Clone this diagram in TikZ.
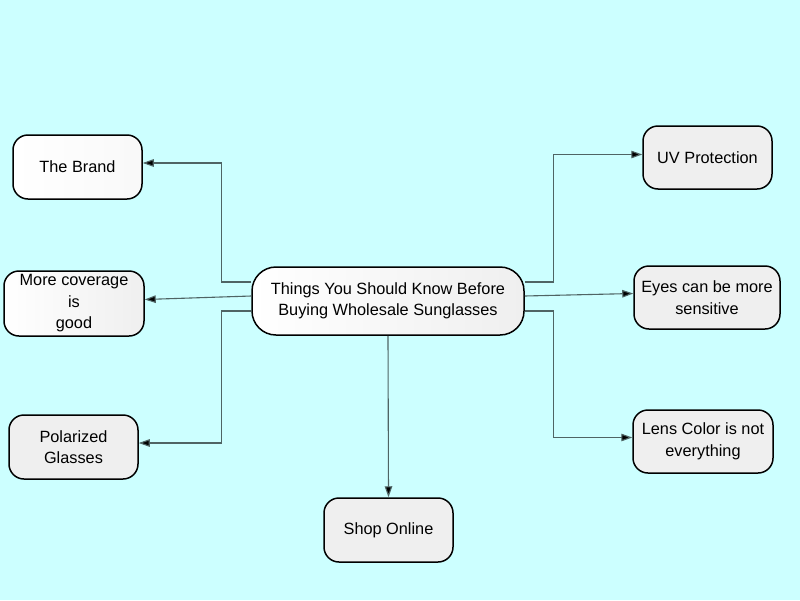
\documentclass[tikz,border=0pt]{standalone}
\usepackage{fontspec}
\setmainfont{Liberation Sans}
\usetikzlibrary{arrows.meta}
\definecolor{bgc}{HTML}{CCFFFF}
\definecolor{boxfill}{HTML}{EFEFEF}
\definecolor{linec}{HTML}{4F6464}
\tikzset{
  box/.style={draw=black, line width=1.5pt, rounded corners=15pt, align=center,
    left color=white, right color=boxfill, inner sep=0pt,
    font=\fontsize{16.3}{21.5}\selectfont},
  conn/.style={draw=linec, line width=1.1pt, -{Triangle[length=11pt,width=7.5pt,fill=black]}}
}
\begin{document}
\begin{tikzpicture}[x=1pt,y=-1pt]
\useasboundingbox[fill=bgc] (0,0) rectangle (800,600);
\node[box, minimum width=272pt, minimum height=68pt, rounded corners=24pt] (c) at (388,301) {Things You Should Know Before\\Buying Wholesale Sunglasses};
\node[box, minimum width=129pt, minimum height=64pt, right color=white!60!boxfill] (brand) at (77.5,167) {The Brand};
\node[box, minimum width=140pt, minimum height=65pt] (cov) at (74,303.5) {More coverage\\is\\good};
\node[box, minimum width=129pt, minimum height=64pt, left color=boxfill] (pol) at (73.5,447) {Polarized\\Glasses};
\node[box, minimum width=129pt, minimum height=64pt, left color=boxfill] (shop) at (388.5,530) {Shop Online};
\node[box, minimum width=129pt, minimum height=63pt, left color=boxfill] (uv) at (707.5,157.5) {UV Protection};
\node[box, minimum width=146pt, minimum height=63pt, left color=boxfill] (eyes) at (707,297.5) {Eyes can be more\\sensitive};
\node[box, minimum width=140pt, minimum height=63pt, left color=boxfill] (lens) at (703,441.5) {Lens Color is not\\everything};
\draw[conn] ([yshift=19pt]c.west) -- ++(-30,0) |- ([yshift=4pt]brand.east);
\draw[conn] ([yshift=5pt]c.west) -- ([yshift=4pt]cov.east);
\draw[conn] ([yshift=-10pt]c.west) -- ++(-30,0) |- ([yshift=4pt]pol.east);
\draw[conn] (c.south) -- (shop.north);
\draw[conn] ([yshift=19pt]c.east) -- ++(29,0) |- ([yshift=3pt]uv.west);
\draw[conn] ([yshift=5pt]c.east) -- ([yshift=4pt]eyes.west);
\draw[conn] ([yshift=-10pt]c.east) -- ++(29,0) |- ([yshift=4pt]lens.west);
\end{tikzpicture}
\end{document}
